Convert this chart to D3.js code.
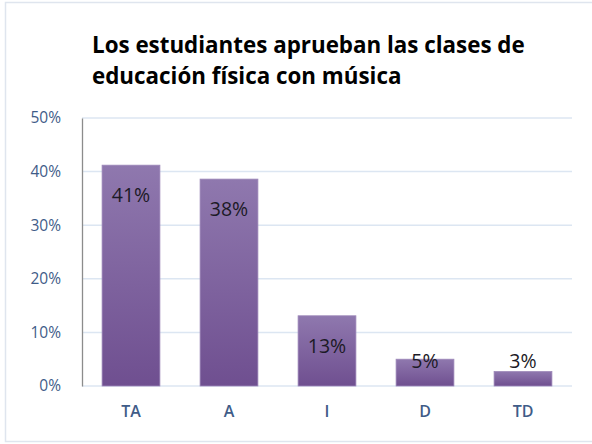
<!DOCTYPE html>
<html><head><meta charset="utf-8">
<script src="https://cdn.jsdelivr.net/npm/d3@7"></script>
<style>html,body{margin:0;padding:0;background:#fff;}</style>
</head><body>
<svg id="chart" width="592" height="444"></svg>
<script>
const categories = ["TA", "A", "I", "D", "TD"];
const values = [41.2, 38.6, 13.1, 5.0, 2.7];
const valueLabels = ["41%", "38%", "13%", "5%", "3%"];
const yTicks = [0, 10, 20, 30, 40, 50];
const titleLines = ["Los estudiantes aprueban las clases de", "educación física con música"];

(function () {
const svg = d3.select("#chart");
const font = "'Open Sans', 'Noto Sans', sans-serif";
const mLeft = 82, mRight = 572, mTop = 118, mBottom = 386;

svg.append("rect").attr("x", 5.5).attr("y", 2.5).attr("width", 600).attr("height", 439)
  .attr("fill", "#fff").attr("stroke", "#dfe5ee").attr("stroke-width", 1.5);

const defs = svg.append("defs");
const grad = defs.append("linearGradient").attr("id", "barGrad")
  .attr("x1", 0).attr("y1", 0).attr("x2", 0).attr("y2", 1);
grad.append("stop").attr("offset", "0%").attr("stop-color", "#8f78ae");
grad.append("stop").attr("offset", "100%").attr("stop-color", "#6f4f90");

const x = d3.scaleBand().domain(categories).range([mLeft, mRight]).paddingInner(0.41).paddingOuter(0.205);
const y = d3.scaleLinear().domain([0, 50]).range([mBottom, mTop]);

svg.append("g").selectAll("line").data(yTicks).join("line")
  .attr("x1", mLeft).attr("x2", mRight)
  .attr("y1", d => y(d)).attr("y2", d => y(d))
  .attr("stroke", "#dce6f2").attr("stroke-width", 1.5);

const yAxis = svg.append("g").attr("transform", `translate(${mLeft},0)`)
  .call(d3.axisLeft(y).tickValues(yTicks).tickFormat(d => d + "%").tickSize(0).tickPadding(21));
yAxis.select(".domain").attr("stroke", "#8c8c8c").attr("stroke-width", 1.3);
yAxis.selectAll("text").attr("font-family", font).attr("font-size", 15.5).attr("fill", "#3f5c88");

const xAxis = svg.append("g").attr("transform", `translate(0,${mBottom})`)
  .call(d3.axisBottom(x).tickSize(0).tickPadding(20));
xAxis.select(".domain").remove();
xAxis.selectAll("text").attr("font-family", font).attr("font-size", 16).attr("font-weight", 600).attr("fill", "#3f5c88");

svg.append("g").selectAll("rect").data(values).join("rect")
  .attr("x", (d, i) => x(categories[i]))
  .attr("width", x.bandwidth())
  .attr("y", d => y(d))
  .attr("height", d => y(0) - y(d))
  .attr("fill", "url(#barGrad)")
  .attr("stroke", "#9d88b9").attr("stroke-width", 0.8);

svg.append("g").selectAll("text").data(values).join("text")
  .attr("x", (d, i) => x(categories[i]) + x.bandwidth() / 2)
  .attr("y", d => Math.min(y(d) + 37, y(0) - 18))
  .attr("text-anchor", "middle")
  .attr("font-family", font).attr("font-size", 19.5).attr("fill", "#1c1a26")
  .text((d, i) => valueLabels[i]);

const title = svg.append("g");
title.selectAll("text").data(titleLines).join("text")
  .attr("x", 92).attr("y", (d, i) => 53 + i * 31)
  .attr("font-family", font).attr("font-weight", "bold").attr("font-size", 22)
  .attr("fill", "#000").text(d => d);
const t0 = title.select("text").node();
const w = t0.getComputedTextLength();
title.selectAll("text").attr("font-size", 22 * 433 / w);
})();
</script>
</body></html>
